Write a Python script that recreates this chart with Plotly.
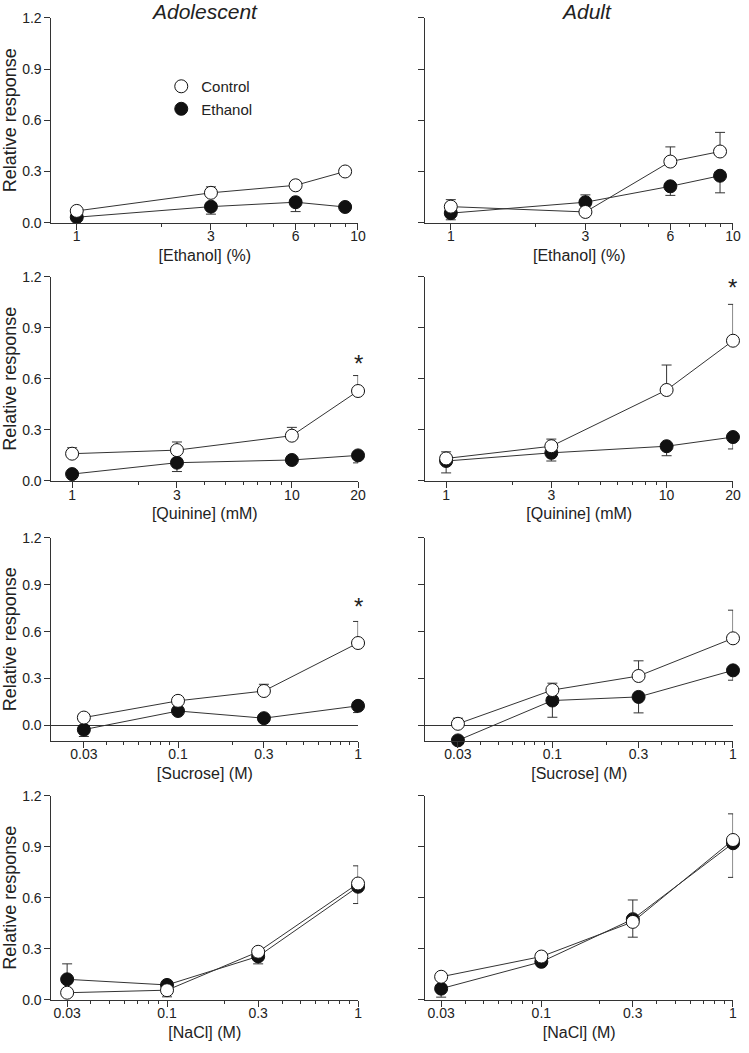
import math
import plotly.graph_objects as go

# ---------------- data ----------------
x_ethanol = [1, 3, 6, 9]
x_quinine = [1, 3, 10, 20]
x_sucrose = [0.03, 0.1, 0.3, 1]
x_nacl = [0.03, 0.1, 0.3, 1]

# Adolescent - Ethanol
a_eth_ctrl = [0.069, 0.175, 0.219, 0.300]
a_eth_ctrl_up = [0, 0.035, 0.008, 0]
a_eth_ctrl_dn = [0, 0, 0, 0]
a_eth_etoh = [0.032, 0.094, 0.120, 0.092]
a_eth_etoh_up = [0, 0, 0, 0]
a_eth_etoh_dn = [0, 0.044, 0.055, 0]

# Adult - Ethanol
b_eth_ctrl = [0.094, 0.063, 0.358, 0.417]
b_eth_ctrl_up = [0.041, 0, 0.086, 0.112]
b_eth_ctrl_dn = [0, 0, 0, 0]
b_eth_etoh = [0.056, 0.120, 0.213, 0.275]
b_eth_etoh_up = [0, 0.043, 0, 0]
b_eth_etoh_dn = [0.039, 0, 0.053, 0.100]

# Adolescent - Quinine
a_qui_ctrl = [0.159, 0.180, 0.265, 0.528]
a_qui_ctrl_up = [0.035, 0.048, 0.049, 0.091]
a_qui_ctrl_dn = [0, 0, 0, 0]
a_qui_etoh = [0.039, 0.106, 0.122, 0.149]
a_qui_etoh_up = [0, 0, 0, 0]
a_qui_etoh_dn = [0, 0.052, 0, 0.044]

# Adult - Quinine
b_qui_ctrl = [0.131, 0.203, 0.534, 0.824]
b_qui_ctrl_up = [0.039, 0.042, 0.147, 0.214]
b_qui_ctrl_dn = [0, 0, 0, 0]
b_qui_etoh = [0.116, 0.164, 0.203, 0.257]
b_qui_etoh_up = [0, 0, 0, 0]
b_qui_etoh_dn = [0.070, 0.048, 0.056, 0.070]

# Adolescent - Sucrose
a_suc_ctrl = [0.050, 0.157, 0.220, 0.527]
a_suc_ctrl_up = [0, 0, 0.043, 0.138]
a_suc_ctrl_dn = [0, 0, 0, 0]
a_suc_etoh = [-0.027, 0.092, 0.046, 0.125]
a_suc_etoh_up = [0, 0, 0, 0]
a_suc_etoh_dn = [0.044, 0, 0, 0.043]

# Adult - Sucrose
b_suc_ctrl = [0.010, 0.226, 0.316, 0.557]
b_suc_ctrl_up = [0.036, 0.044, 0.097, 0.180]
b_suc_ctrl_dn = [0, 0, 0, 0]
b_suc_etoh = [-0.096, 0.159, 0.182, 0.352]
b_suc_etoh_up = [0, 0, 0, 0]
b_suc_etoh_dn = [0, 0.107, 0.102, 0.063]

# Adolescent - NaCl
a_nac_ctrl = [0.041, 0.056, 0.282, 0.684]
a_nac_ctrl_up = [0, 0, 0, 0.104]
a_nac_ctrl_dn = [0, 0, 0, 0]
a_nac_etoh = [0.120, 0.087, 0.255, 0.665]
a_nac_etoh_up = [0.091, 0, 0, 0]
a_nac_etoh_dn = [0, 0.070, 0.044, 0.099]

# Adult - NaCl
b_nac_ctrl = [0.135, 0.254, 0.458, 0.940]
b_nac_ctrl_up = [0, 0, 0.129, 0.154]
b_nac_ctrl_dn = [0, 0, 0, 0]
b_nac_etoh = [0.065, 0.223, 0.474, 0.921]
b_nac_etoh_up = [0, 0, 0, 0]
b_nac_etoh_dn = [0.050, 0, 0.106, 0.201]

# tick labels
eth_ticks = [1, 3, 6, 10]
eth_ticktext = ["1", "3", "6", "10"]
eth_minor = [2, 4, 5, 7, 8, 9]
qui_ticks = [1, 3, 10, 20]
qui_ticktext = ["1", "3", "10", "20"]
qui_minor = [2, 4, 5, 6, 7, 8, 9]
conc_ticks = [0.03, 0.1, 0.3, 1]
conc_ticktext = ["0.03", "0.1", "0.3", "1"]
conc_minor = [0.04, 0.05, 0.06, 0.07, 0.08, 0.09, 0.2, 0.4, 0.5, 0.6, 0.7, 0.8, 0.9]
y_ticks = [0.0, 0.3, 0.6, 0.9, 1.2]
y_ticktext = ["0.0", "0.3", "0.6", "0.9", "1.2"]

column_titles = ["Adolescent", "Adult"]
x_titles = ["[Ethanol] (%)", "[Quinine] (mM)", "[Sucrose] (M)", "[NaCl] (M)"]
y_title = "Relative response"
series_names = ["Control", "Ethanol"]

# asterisks: (panel index, x, y)
asterisks = [(2, 20, 0.69), (3, 20, 1.14), (4, 1, 0.76)]

# ---------------- layout helpers ----------------
W, H = 749, 1053
FONT = "Liberation Sans, Arial, sans-serif"
INK = "#222222"
AX = "#333333"

col_px = [(52, 362), (430, 741)]
col_title_px = [207, 593]
row_px = [(10, 218), (273, 480), (538, 744), (800, 1007)]

panels = [
    # (row, col, x, ctrl, ctrl_up, ctrl_dn, etoh, etoh_up, etoh_dn, ticks, ticktext, minor, xrange, yrange)
    (0, 0, x_ethanol, a_eth_ctrl, a_eth_ctrl_up, a_eth_ctrl_dn, a_eth_etoh, a_eth_etoh_up, a_eth_etoh_dn,
     eth_ticks, eth_ticktext, eth_minor, [-0.09, 1.0005], [0, 1.2]),
    (0, 1, x_ethanol, b_eth_ctrl, b_eth_ctrl_up, b_eth_ctrl_dn, b_eth_etoh, b_eth_etoh_up, b_eth_etoh_dn,
     eth_ticks, eth_ticktext, eth_minor, [-0.09, 1.0005], [0, 1.2]),
    (1, 0, x_quinine, a_qui_ctrl, a_qui_ctrl_up, a_qui_ctrl_dn, a_qui_etoh, a_qui_etoh_up, a_qui_etoh_dn,
     qui_ticks, qui_ticktext, qui_minor, [-0.094, 1.3015], [0, 1.2]),
    (1, 1, x_quinine, b_qui_ctrl, b_qui_ctrl_up, b_qui_ctrl_dn, b_qui_etoh, b_qui_etoh_up, b_qui_etoh_dn,
     qui_ticks, qui_ticktext, qui_minor, [-0.094, 1.3015], [0, 1.2]),
    (2, 0, x_sucrose, a_suc_ctrl, a_suc_ctrl_up, a_suc_ctrl_dn, a_suc_etoh, a_suc_etoh_up, a_suc_etoh_dn,
     conc_ticks, conc_ticktext, conc_minor, [-1.703, 0.0005], [-0.098, 1.2]),
    (2, 1, x_sucrose, b_suc_ctrl, b_suc_ctrl_up, b_suc_ctrl_dn, b_suc_etoh, b_suc_etoh_up, b_suc_etoh_dn,
     conc_ticks, conc_ticktext, conc_minor, [-1.703, 0.0005], [-0.098, 1.2]),
    (3, 0, x_nacl, a_nac_ctrl, a_nac_ctrl_up, a_nac_ctrl_dn, a_nac_etoh, a_nac_etoh_up, a_nac_etoh_dn,
     conc_ticks, conc_ticktext, conc_minor, [-1.605, 0.0005], [0, 1.2]),
    (3, 1, x_nacl, b_nac_ctrl, b_nac_ctrl_up, b_nac_ctrl_dn, b_nac_etoh, b_nac_etoh_up, b_nac_etoh_dn,
     conc_ticks, conc_ticktext, conc_minor, [-1.605, 0.0005], [0, 1.2]),
]

fig = go.Figure()
layout = dict(
    width=W, height=H,
    margin=dict(l=0, r=0, t=0, b=0),
    paper_bgcolor="white", plot_bgcolor="white",
    font=dict(family=FONT, size=14, color=INK),
    showlegend=True,
    legend=dict(x=163 / W, y=1 - 63 / H, xanchor="left", yanchor="top",
                bgcolor="rgba(0,0,0,0)", font=dict(size=15, color=INK),
                tracegroupgap=0, itemwidth=30),
)

annotations = []
marker_size = 13

for i, (r, c, xv, cy, cu, cd, ey, eu, ed, tv, tt, mv, xr, yr) in enumerate(panels):
    n = i + 1
    xa = "x" if n == 1 else f"x{n}"
    ya = "y" if n == 1 else f"y{n}"
    x0, x1 = col_px[c]
    t0, b0 = row_px[r]
    layout["xaxis" if n == 1 else f"xaxis{n}"] = dict(
        type="log", range=xr, domain=[x0 / W, x1 / W], anchor=ya,
        tickmode="array", tickvals=tv, ticktext=tt,
        ticks="outside", ticklen=6, tickwidth=1, tickcolor=AX,
        ticklabelstandoff=-5,
        minor=dict(tickmode="array", tickvals=mv, ticks="outside", ticklen=3,
                   tickwidth=1, tickcolor=AX, showgrid=False),
        showline=True, linecolor=AX, linewidth=1, mirror=False,
        showgrid=False, zeroline=False,
        tickfont=dict(size=14, color=INK),
        title=dict(text=x_titles[r], font=dict(size=16, color=INK), standoff=6),
    )
    layout["yaxis" if n == 1 else f"yaxis{n}"] = dict(
        range=yr, domain=[1 - b0 / H, 1 - t0 / H], anchor=xa,
        tickmode="array", tickvals=y_ticks, ticktext=y_ticktext,
        showticklabels=(c == 0),
        ticks="outside", ticklen=6, tickwidth=1, tickcolor=AX,
        showline=True, linecolor=AX, linewidth=1,
        showgrid=False,
        zeroline=(yr[0] < 0), zerolinecolor=AX, zerolinewidth=1,
        tickfont=dict(size=14, color=INK),
        title=dict(text=y_title if c == 0 else "", font=dict(size=18, color=INK), standoff=6),
    )
    # ethanol (filled) first, control (open) on top
    fig.add_trace(go.Scatter(
        x=xv, y=ey, xaxis=xa, yaxis=ya, mode="lines+markers", showlegend=False,
        name=series_names[1], cliponaxis=False,
        line=dict(color=AX, width=1),
        marker=dict(symbol="circle", size=marker_size, color="#111111",
                    line=dict(color="#111111", width=1)),
        error_y=dict(type="data", symmetric=False, array=eu, arrayminus=ed,
                     color=AX, thickness=1, width=5),
    ))
    fig.add_trace(go.Scatter(
        x=xv, y=cy, xaxis=xa, yaxis=ya, mode="lines+markers", showlegend=False,
        name=series_names[0], cliponaxis=False,
        line=dict(color=AX, width=1),
        marker=dict(symbol="circle", size=marker_size, color="white",
                    line=dict(color="#111111", width=1)),
        error_y=dict(type="data", symmetric=False, array=cu, arrayminus=cd,
                     color=AX, thickness=1, width=5),
    ))

# legend-only entries
fig.add_trace(go.Scatter(x=[None], y=[None], mode="markers", name=series_names[0],
                         marker=dict(symbol="circle", size=marker_size, color="white",
                                     line=dict(color="#111111", width=1))))
fig.add_trace(go.Scatter(x=[None], y=[None], mode="markers", name=series_names[1],
                         marker=dict(symbol="circle", size=marker_size, color="#111111",
                                     line=dict(color="#111111", width=1))))

# column titles
for c, t in enumerate(column_titles):
    annotations.append(dict(
        text=f"<i>{t}</i>", xref="paper", yref="paper",
        x=col_title_px[c] / W, y=1 - 4 / H, xanchor="center", yanchor="middle",
        showarrow=False, font=dict(size=21, color=INK, family=FONT)))

# asterisks
for (pi, ax_x, ax_y) in asterisks:
    n = pi + 1
    annotations.append(dict(
        text="*", xref="x" if n == 1 else f"x{n}", yref="y" if n == 1 else f"y{n}",
        x=math.log10(ax_x), y=ax_y,
        xanchor="center", yanchor="middle", showarrow=False,
        font=dict(size=24, color=INK, family=FONT)))

layout["annotations"] = annotations
fig.update_layout(**layout)
fig.write_html(
    "out.html",
    config={"displayModeBar": False},
    post_script="document.body.style.margin='0';document.body.style.overflow='hidden';",
)
